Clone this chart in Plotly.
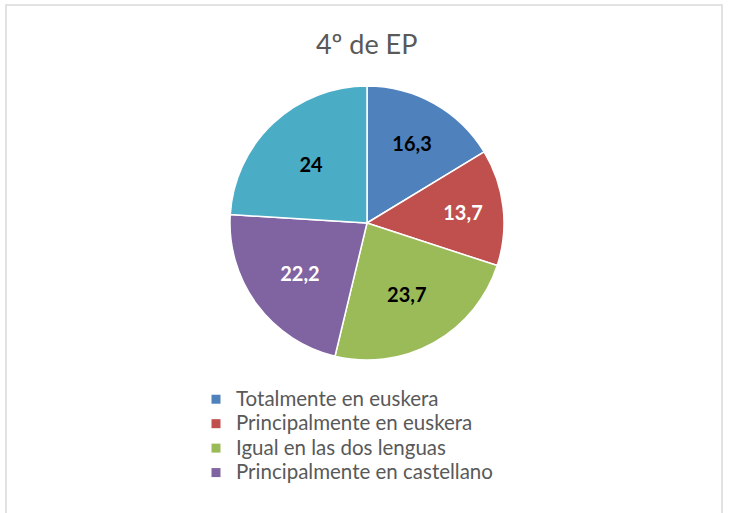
import plotly.graph_objects as go

categories = [
    "Totalmente en euskera",
    "Principalmente en euskera",
    "Igual en las dos lenguas",
    "Principalmente en castellano",
    "Totalmente en castellano",
]
values = [16.3, 13.7, 23.7, 22.2, 24]
colors = ["#4F81BD", "#C0504D", "#9BBB59", "#8064A2", "#4BACC6"]
label_colors = ["#000000", "#FFFFFF", "#000000", "#FFFFFF", "#000000"]
legend_count = 4  # the reference legend only has room for the first four entries
title_text = "4º de EP"

W, H = 729, 513

def px(x):
    return x / W

def py(y):
    return 1 - y / H

fig = go.Figure()
fig.add_trace(
    go.Pie(
        labels=categories,
        values=values,
        sort=False,
        direction="clockwise",
        rotation=0,
        marker=dict(colors=colors, line=dict(color="#FFFFFF", width=1.5)),
        textinfo="value",
        texttemplate="%{value}",
        textposition="inside",
        insidetextorientation="horizontal",
        textfont=dict(family="Lato", size=20, weight="bold", color=label_colors),
        domain=dict(x=[px(230), px(504)], y=[py(360), py(86)]),
        hoverinfo="label+value",
        showlegend=False,
    )
)

# legend entries (same categories and colours as the slices)
for name, col in zip(categories[:legend_count], colors[:legend_count]):
    fig.add_trace(
        go.Scatter(
            x=[None],
            y=[None],
            mode="markers",
            marker=dict(symbol="square", size=9, color=col),
            name=f'<span style="font-size:20.5px">{name}</span>',
            showlegend=True,
        )
    )

fig.update_layout(
    width=W,
    height=H,
    margin=dict(l=0, r=0, t=0, b=0),
    paper_bgcolor="#FFFFFF",
    plot_bgcolor="#FFFFFF",
    separators=",.",
    xaxis=dict(visible=False),
    yaxis=dict(visible=False),
    title=dict(
        text=title_text,
        x=0.503,
        xanchor="center",
        y=1 - 45 / H,
        yanchor="middle",
        font=dict(family="Lato", size=27, color="#595959"),
    ),
    legend=dict(
        x=px(196),
        y=py(382),
        xanchor="left",
        yanchor="top",
        font=dict(family="Lato", size=16.5, color="#595959"),
        bgcolor="rgba(0,0,0,0)",
    ),
    shapes=[
        dict(
            type="rect",
            xref="paper",
            yref="paper",
            x0=px(6),
            x1=px(722),
            y0=py(540),
            y1=py(5),
            line=dict(color="#D9D9D9", width=1.5),
            fillcolor="rgba(0,0,0,0)",
        )
    ],
)

fig.write_html(
    "out.html",
    config={"displayModeBar": False},
    post_script="document.documentElement.style.overflow='hidden';document.body.style.margin='0';document.body.style.overflow='hidden';",
)
